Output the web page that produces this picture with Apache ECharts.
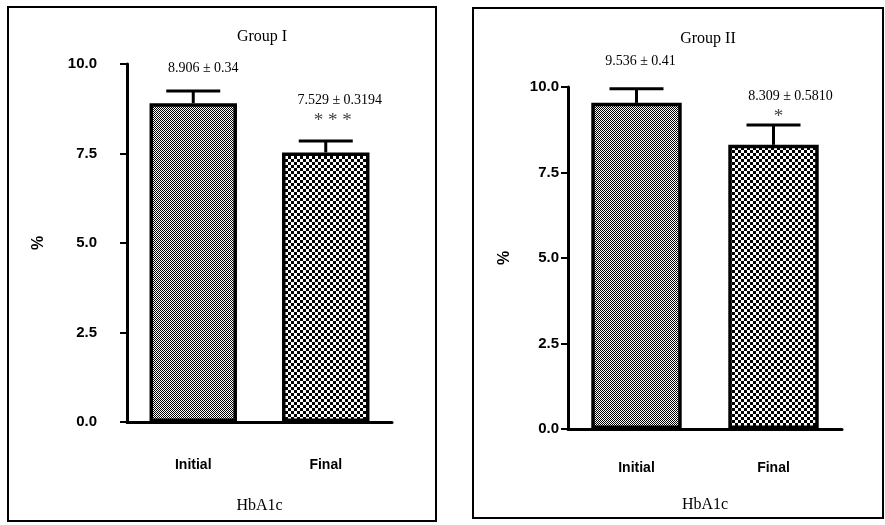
<!DOCTYPE html>
<html>
<head>
<meta charset="utf-8">
<script src="https://cdn.jsdelivr.net/npm/echarts@6/dist/echarts.min.js"></script>
<style>html,body{margin:0;padding:0;background:#fff}#c{width:885px;height:525px}</style>
</head>
<body>
<div id="c"></div>
<script>
// ---- data ----
const categories = ['Initial', 'Final'];
const g1Mean = [8.906, 7.529];
const g1Err = [0.34, 0.3194];
const g1Labels = ['8.906 \u00b1 0.34', '7.529 \u00b1 0.3194'];
const g1Stars = ['', '* * *'];
const g2Mean = [9.536, 8.309];
const g2Err = [0.41, 0.5810];
const g2Labels = ['9.536 \u00b1 0.41', '8.309 \u00b1 0.5810'];
const g2Stars = ['', '*'];
const titles = ['Group I', 'Group II'];
const xName = 'HbA1c';
const yName = '%';
const yMin = 0, yMax = 10, yInterval = 2.5;

// ---- patterns ----
function checker(size) {
  const c = document.createElement('canvas');
  c.width = size * 2; c.height = size * 2;
  const ctx = c.getContext('2d');
  ctx.fillStyle = '#fff'; ctx.fillRect(0, 0, c.width, c.height);
  ctx.fillStyle = '#000';
  ctx.fillRect(0, 0, size, size);
  ctx.fillRect(size, size, size, size);
  return c;
}
const fine = { image: checker(1), repeat: 'repeat' };
const coarse = { image: checker(3), repeat: 'repeat' };

const chart = echarts.init(document.getElementById('c'), null, { renderer: 'canvas' });

const panels = [
  { grid: { left: 127, top: 64, right: 493, bottom: 103 }, labelMargin: 30, catMargin: 36, xNameGap: 76, yNameGap: 80,
    labelGap: [23, 41], labelDx: [10, 14], starGap: 23, starDx: 7,
    mean: g1Mean, err: g1Err, labels: g1Labels, stars: g1Stars, titleX: 257, titleY: 24 },
  { grid: { left: 568, top: 87, right: 43, bottom: 96 }, labelMargin: 9, catMargin: 32, xNameGap: 68, yNameGap: 55,
    labelGap: [28, 29], labelDx: [4, 17], starGap: 11, starDx: 5,
    mean: g2Mean, err: g2Err, labels: g2Labels, stars: g2Stars, titleX: 703, titleY: 26 }
];

const serif = '"Liberation Serif", "DejaVu Serif", serif';
const sans = '"Liberation Sans", Arial, sans-serif';

const option = {
  animation: false,
  backgroundColor: '#fff',
  title: panels.map((p, i) => ({
    text: titles[i], left: p.titleX, top: p.titleY, textAlign: 'center',
    textStyle: { fontFamily: serif, fontSize: 16, fontWeight: 'normal', color: '#000' }
  })),
  graphic: [
    { type: 'rect', shape: { x: 8, y: 7, width: 428, height: 514 }, style: { fill: 'none', stroke: '#000', lineWidth: 2 }, z: 0 },
    { type: 'rect', shape: { x: 473, y: 8, width: 410, height: 510 }, style: { fill: 'none', stroke: '#000', lineWidth: 2 }, z: 0 }
  ],
  grid: panels.map(p => p.grid),
  xAxis: panels.map((p, i) => ({
    type: 'category', gridIndex: i, data: categories,
    name: xName, nameLocation: 'middle', nameGap: p.xNameGap,
    nameTextStyle: { fontFamily: serif, fontSize: 16, color: '#000' },
    axisLine: { lineStyle: { color: '#000', width: 3 } },
    axisTick: { alignWithLabel: true, length: 8, lineStyle: { color: '#000', width: 3 } },
    axisLabel: { margin: p.catMargin, fontFamily: sans, fontWeight: 'bold', fontSize: 14, color: '#000' }
  })),
  yAxis: panels.map((p, i) => ({
    type: 'value', gridIndex: i, min: yMin, max: yMax, interval: yInterval,
    name: yName, nameLocation: 'middle', nameGap: p.yNameGap,
    nameTextStyle: { fontFamily: sans, fontWeight: 'bold', fontSize: 16, color: '#000' },
    axisLine: { show: true, lineStyle: { color: '#000', width: 3 } },
    axisTick: { show: true, length: 7, lineStyle: { color: '#000', width: 2 } },
    splitLine: { show: false },
    axisLabel: { margin: p.labelMargin, fontFamily: sans, fontWeight: 'bold', fontSize: 15, color: '#000',
      formatter: v => v.toFixed(1) }
  })),
  series: []
};

panels.forEach((p, i) => {
  option.series.push({
    type: 'bar', xAxisIndex: i, yAxisIndex: i, barWidth: '66%',
    data: p.mean.map((v, k) => ({ value: v, itemStyle: { color: k === 0 ? fine : coarse } })),
    itemStyle: { borderColor: '#000', borderWidth: 3.5 },
    z: 2
  });
  option.series.push({
    type: 'custom', xAxisIndex: i, yAxisIndex: i, z: 3,
    data: p.mean.map((v, k) => [k, v, p.err[k]]),
    renderItem: (params, api) => {
      const k = api.value(0);
      const base = api.coord([k, api.value(1)]);
      const top = api.coord([k, api.value(1) + api.value(2)]);
      const half = 27;
      const children = [
        { type: 'line', shape: { x1: top[0], y1: base[1], x2: top[0], y2: top[1] }, style: { stroke: '#000', lineWidth: 3 } },
        { type: 'line', shape: { x1: top[0] - half, y1: top[1], x2: top[0] + half, y2: top[1] }, style: { stroke: '#000', lineWidth: 3 } },
        { type: 'text', x: top[0] + p.labelDx[k], y: top[1] - p.labelGap[k],
          style: { text: p.labels[k], fill: '#000', font: '14px ' + serif, align: 'center', verticalAlign: 'middle' } }
      ];
      if (p.stars[k]) {
        children.push({ type: 'text', x: top[0] + p.starDx, y: top[1] - p.starGap + 3,
          style: { text: p.stars[k], fill: '#444', font: '19px ' + serif, align: 'center', verticalAlign: 'middle' } });
      }
      return { type: 'group', children };
    }
  });
});

chart.setOption(option);
</script>
</body>
</html>
